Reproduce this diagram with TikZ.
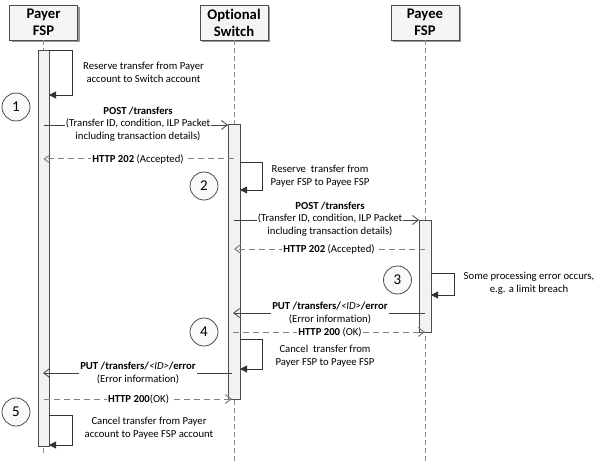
\documentclass[tikz,border=0pt]{standalone}
\usepackage{fontspec}
\setmainfont{Carlito}[Ligatures={NoCommon,NoRare,NoDiscretionary}]
\usetikzlibrary{arrows.meta,shadows}
\begin{document}
\begin{tikzpicture}[x=1pt,y=-1pt,
  head/.style={draw=black!70, fill=gray!8, minimum width=68pt, minimum height=35pt, inner sep=0pt, align=center,
    font=\fontsize{14.7}{17}\selectfont\bfseries,
    drop shadow={shadow xshift=2pt,shadow yshift=-2pt,fill=black!40,opacity=1}},
  life/.style={draw=black!45, dash pattern=on 5pt off 3pt, line width=1pt},
  bar/.style={draw=black!70, fill=gray!10, line width=0.8pt, inner sep=0pt, anchor=north},
  msg/.style={draw=black!75, line width=0.8pt, -{Straight Barb[length=6pt,width=9pt]}},
  ret/.style={draw=black!50, line width=1pt, dash pattern=on 6pt off 4pt, -{Straight Barb[length=6pt,width=9pt]}},
  selfloop/.style={draw=black!80, line width=0.8pt, -{Triangle[length=7pt,width=7pt]}},
  lbl/.style={fill=white, inner sep=1pt, align=center, font=\fontsize{10.7}{12.8}\selectfont},
  note/.style={inner sep=0pt, align=center, font=\fontsize{10.7}{12.8}\selectfont},
  stepnum/.style={circle, draw=black!70, fill=gray!5, line width=0.8pt, minimum size=28pt, inner sep=0pt,
    font=\fontsize{15}{15}\selectfont}
]
\useasboundingbox (0,0) rectangle (601,462);

% heads
\node[head] (payer) at (43.5,22.5) {Payer\\FSP};
\node[head] (switch) at (234,22.5) {Optional\\Switch};
\node[head] (payee) at (425,22.5) {Payee\\FSP};

% lifeline ends
\coordinate (payerend) at (43.5,456);
\coordinate (switchend) at (234,462);
\coordinate (payeeend) at (425,462);
\draw[life] (payer.south) -- (payerend);
\draw[life] (switch.south) -- (switchend);
\draw[life] (payee.south) -- (payeeend);

% activation bars
\node[bar, minimum width=11pt, minimum height=396pt] (pbar) at (43.5,50) {};
\node[bar, minimum width=12pt, minimum height=275pt] (sbar) at (234,124) {};
\node[bar, minimum width=12pt, minimum height=112pt] (ebar) at (425,220) {};

% step numbers
\node[stepnum] (n1) at (16,107) {1};
\node[stepnum] (n2) at (204,186) {2};
\node[stepnum] (n3) at (397.5,280) {3};
\node[stepnum] (n4) at (204,332) {4};
\node[stepnum] (n5) at (16,412) {5};

% self loop 1 (payer)
\coordinate (l1a) at (49,50);
\coordinate (l1b) at (72,50);
\coordinate (l1c) at (72,95);
\coordinate (l1d) at (49,95);
\draw[selfloop] (l1a) -- (l1b) -- (l1c) -- (l1d);
\node[note] (t1) at (143.5,72.5) {Reserve transfer from Payer\\account to Switch account};

% message 1
\coordinate (m1a) at (43.5,125);
\coordinate (m1b) at (228,125);
\draw[msg] (m1a) -- (m1b);
\node[lbl] (lm1) at (138,124) {\textbf{POST /transfers}\\(Transfer ID, condition, ILP Packet\\including transaction details)};

% return 1
\coordinate (r1a) at (234,159);
\coordinate (r1b) at (43.5,159);
\draw[ret] (r1a) -- (r1b);
\node[lbl] (lr1) at (138,159) {\textbf{HTTP 202} (Accepted)};

% self loop 2 (switch)
\coordinate (l2a) at (240,162);
\coordinate (l2b) at (262,162);
\coordinate (l2c) at (262,190);
\coordinate (l2d) at (240,190);
\draw[selfloop] (l2a) -- (l2b) -- (l2c) -- (l2d);
\node[note] (t2) at (320,176) {Reserve\ \ transfer from\\Payer FSP to Payee FSP};

% message 2
\coordinate (m2a) at (234,220);
\coordinate (m2b) at (419,220);
\draw[msg] (m2a) -- (m2b);
\node[lbl] (lm2) at (330,219) {\textbf{POST /transfers}\\(Transfer ID, condition, ILP Packet\\including transaction details)};

% return 2
\coordinate (r2a) at (425,249);
\coordinate (r2b) at (234,249);
\draw[ret] (r2a) -- (r2b);
\node[lbl] (lr2) at (329,249) {\textbf{HTTP 202} (Accepted)};

% self loop 3 (payee)
\coordinate (l3a) at (431,273);
\coordinate (l3b) at (454,273);
\coordinate (l3c) at (454,295);
\coordinate (l3d) at (431,295);
\draw[selfloop] (l3a) -- (l3b) -- (l3c) -- (l3d);
\node[note] (t3) at (529,283.5) {Some processing error occurs,\\e.g. a limit breach};

% message 3
\coordinate (m3a) at (425,313);
\coordinate (m3b) at (233,313);
\draw[msg] (m3a) -- (m3b);
\node[lbl] (lm3) at (330,313) {\textbf{PUT /transfers/}\textit{<ID>}\textbf{/error}\\(Error information)};

% return 3
\coordinate (r3a) at (233,332);
\coordinate (r3b) at (425,332);
\draw[ret] (r3a) -- (r3b);
\node[lbl] (lr3) at (330,332) {\textbf{HTTP 200} (OK)};

% self loop 4 (switch)
\coordinate (l4a) at (240,339);
\coordinate (l4b) at (262,339);
\coordinate (l4c) at (262,369);
\coordinate (l4d) at (240,369);
\draw[selfloop] (l4a) -- (l4b) -- (l4c) -- (l4d);
\node[note] (t4) at (325,356) {Cancel\ \ transfer from\\Payer FSP to Payee FSP};

% message 4
\coordinate (m4a) at (232,373);
\coordinate (m4b) at (43,373);
\draw[msg] (m4a) -- (m4b);
\node[lbl] (lm4) at (138,373) {\textbf{PUT /transfers/}\textit{<ID>}\textbf{/error}\\(Error information)};

% return 4
\coordinate (r4a) at (43.5,399);
\coordinate (r4b) at (232,399);
\draw[ret] (r4a) -- (r4b);
\node[lbl] (lr4) at (138.5,399) {\textbf{HTTP 200}(OK)};

% self loop 5 (payer)
\coordinate (l5a) at (49,415);
\coordinate (l5b) at (72,415);
\coordinate (l5c) at (72,445);
\coordinate (l5d) at (49,445);
\draw[selfloop] (l5a) -- (l5b) -- (l5c) -- (l5d);
\node[note] (t5) at (149,428.5) {Cancel transfer from Payer\\account to Payee FSP account};
\end{tikzpicture}
\end{document}
